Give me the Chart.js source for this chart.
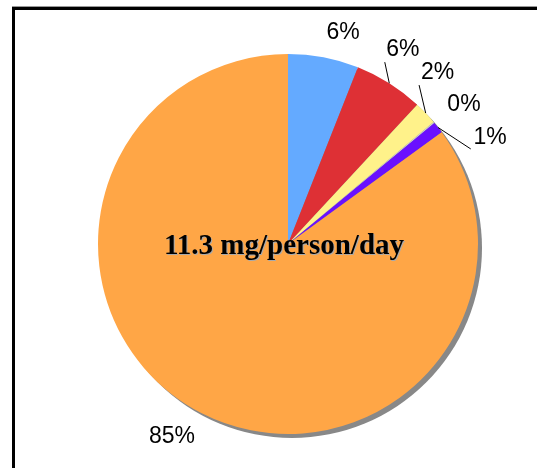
<!DOCTYPE html>
<html>
<head>
<meta charset="utf-8">
<script src="https://cdn.jsdelivr.net/npm/chart.js@4.4.0/dist/chart.umd.min.js"></script>
<style>
  html, body { margin: 0; padding: 0; background: #fff; }
  #wrap { position: relative; width: 537px; height: 468px; overflow: hidden; }
  #frame { position: absolute; left: 12px; top: 7px; width: 700px; height: 700px;
           border: 3px solid #000; box-shadow: 0 -1px 0 #999; box-sizing: border-box; }
  canvas { position: absolute; left: 0; top: 0; }
</style>
</head>
<body>
<div id="wrap">
  <div id="frame"></div>
  <canvas id="chart-pie" width="537" height="468"></canvas>
</div>
<script>
var categories = ["A", "B", "C", "D", "E", "F"];
var values = [6.0, 5.9, 2.0, 0.1, 1.0, 85.0];
var colors = ["#64aaff", "#de3035", "#fff28a", "#d0d0d0", "#6a10ff", "#ffa646"];
var centerText = "11.3 mg/person/day";

var total = values.reduce(function (a, b) { return a + b; }, 0);

// gray drop shadow behind the pie
var shadowPlugin = {
  id: "shadow",
  beforeDatasetsDraw: function (chart) {
    var arc = chart.getDatasetMeta(0).data[0];
    var ctx = chart.ctx;
    ctx.save();
    ctx.fillStyle = "#888";
    ctx.beginPath();
    ctx.arc(arc.x + 4, arc.y + 4, arc.outerRadius, 0, Math.PI * 2);
    ctx.fill();
    ctx.restore();
  }
};

// outside percent labels with leader lines
var labelPlugin = {
  id: "outLabels",
  afterDatasetsDraw: function (chart) {
    var meta = chart.getDatasetMeta(0);
    var ctx = chart.ctx;
    var mids = meta.data.map(function (a) { return (a.startAngle + a.endAngle) / 2; });
    var ang = mids.slice();
    var gap = 11.5 * Math.PI / 180;
    for (var k = 0; k < 100; k++) {
      for (var i = 1; i < ang.length; i++) {
        var d = ang[i] - ang[i - 1];
        if (d < gap) {
          var push = (gap - d) / 2;
          ang[i - 1] -= push;
          ang[i] += push;
        }
      }
    }
    ctx.save();
    ctx.font = "23px 'Liberation Sans', Arial, sans-serif";
    ctx.fillStyle = "#000";
    ctx.strokeStyle = "#000";
    ctx.lineWidth = 1;
    ctx.textAlign = "center";
    ctx.textBaseline = "middle";
    meta.data.forEach(function (a, i) {
      var r = a.outerRadius;
      var pct = Math.round(values[i] / total * 100) + "%";
      var hw = ctx.measureText(pct).width / 2;
      var hh = 10;
      var cx = Math.cos(ang[i]), sy = Math.sin(ang[i]);
      var moved = Math.abs(ang[i] - mids[i]) > 1.5 * Math.PI / 180;
      var dist = r + (moved ? 19 : 15);
      var ax = a.x + cx * dist, ay = a.y + sy * dist;
      var tx = ax + (cx >= 0 ? hw : -hw);
      var ty = ay + (sy >= 0 ? hh : -hh);
      if (moved) {
        ctx.beginPath();
        ctx.moveTo(a.x + Math.cos(mids[i]) * r, a.y + Math.sin(mids[i]) * r);
        ctx.lineTo(a.x + cx * (dist - 3), a.y + sy * (dist - 3));
        ctx.stroke();
      }
      ctx.fillText(pct, tx, ty);
    });
    // center text
    var c = meta.data[0];
    ctx.font = "bold 29px 'Liberation Serif', 'Times New Roman', serif";
    ctx.textBaseline = "alphabetic";
    ctx.fillStyle = "#aaa";
    ctx.fillText(centerText, c.x - 3, c.y + 11);
    ctx.fillStyle = "#000";
    ctx.fillText(centerText, c.x - 4, c.y + 10);
    ctx.restore();
  }
};

var ctx = document.getElementById("chart-pie").getContext("2d");
var chartPie = new Chart(ctx, {
  type: "pie",
  data: {
    labels: categories,
    datasets: [
      {
        data: values,
        backgroundColor: colors,
        borderWidth: 0,
      },
    ],
  },
  options: {
    responsive: false,
    animation: false,
    layout: { padding: { left: 98, right: 59, top: 54, bottom: 34 } },
    plugins: {
      legend: { display: false },
      tooltip: { enabled: false },
    },
  },
  plugins: [shadowPlugin, labelPlugin],
});
</script>
</body>
</html>
